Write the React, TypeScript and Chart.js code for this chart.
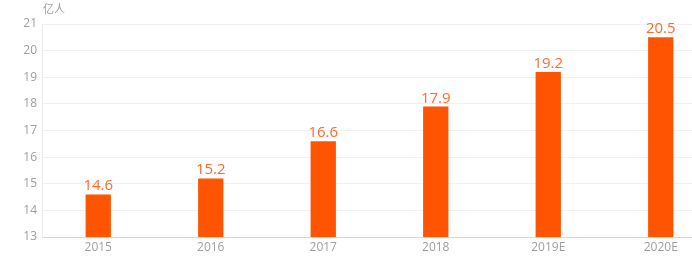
import React, { useEffect, useRef } from "react";
import { Chart, registerables } from "chart.js";

Chart.register(...registerables);

const categories = ["2015", "2016", "2017", "2018", "2019E", "2020E"];
const values = [14.6, 15.2, 16.6, 17.9, 19.2, 20.5];
const unitLabel = "亿人";
const yMin = 13;
const yMax = 21;

const BAR_COLOR = "#FF5502";
const LABEL_COLOR = "#FF6A2C";
const TICK_COLOR = "#9e9e9e";
const FONT = "'Open Sans', 'Noto Sans CJK SC', sans-serif";

const valueLabelPlugin = {
  id: "valueLabels",
  afterDatasetsDraw(chart: any) {
    const ctx = chart.ctx;
    const meta = chart.getDatasetMeta(0);
    ctx.save();
    ctx.font = `15px ${FONT}`;
    ctx.fillStyle = LABEL_COLOR;
    ctx.textAlign = "center";
    ctx.textBaseline = "alphabetic";
    meta.data.forEach((bar: any, i: number) => {
      ctx.fillText(String(values[i]), bar.x, bar.y - 4);
    });
    ctx.restore();
  },
};

const unitPlugin = {
  id: "unitLabel",
  afterDraw(chart: any) {
    const ctx = chart.ctx;
    ctx.save();
    ctx.font = `11px ${FONT}`;
    ctx.fillStyle = TICK_COLOR;
    ctx.textAlign = "left";
    ctx.textBaseline = "middle";
    ctx.fillText(unitLabel, 43, 10);
    ctx.restore();
  },
};

export default function App() {
  const ref = useRef<HTMLCanvasElement>(null);
  useEffect(() => {
    if (!ref.current) return;
    const chart = new Chart(ref.current, {
      type: "bar",
      data: {
        labels: categories,
        datasets: [
          {
            data: values,
            backgroundColor: BAR_COLOR,
            borderWidth: 0,
            barPercentage: 0.225,
            categoryPercentage: 1,
          },
        ],
      },
      options: {
        responsive: false,
        animation: false,
        devicePixelRatio: 1,
        layout: { padding: { top: 24, right: 3, left: 0, bottom: 0 } },
        plugins: {
          legend: { display: false },
          tooltip: { enabled: false },
        },
        scales: {
          x: {
            grid: { display: false, drawTicks: false },
            border: { display: true, color: "#d6d6d6", width: 1 },
            ticks: {
              color: TICK_COLOR,
              font: { family: FONT, size: 12 },
              padding: 3,
              maxRotation: 0,
            },
            afterFit(scale: any) {
              scale.height = 21;
            },
          },
          y: {
            min: yMin,
            max: yMax,
            grid: { color: "#f1f1f1", drawTicks: false },
            border: { display: true, color: "#ececec" },
            ticks: {
              stepSize: 1,
              color: TICK_COLOR,
              font: { family: FONT, size: 12 },
              padding: 5,
            },
            afterFit(scale: any) {
              scale.width = 42;
            },
          },
        },
      },
      plugins: [valueLabelPlugin, unitPlugin],
    });
    return () => chart.destroy();
  }, []);

  return (
    <div
      style={{
        position: "fixed",
        left: 0,
        top: 0,
        width: 692,
        height: 258,
        overflow: "hidden",
        background: "#fff",
      }}
    >
      <canvas ref={ref} width={720} height={258} style={{ width: 720, height: 258, display: "block" }} />
    </div>
  );
}
